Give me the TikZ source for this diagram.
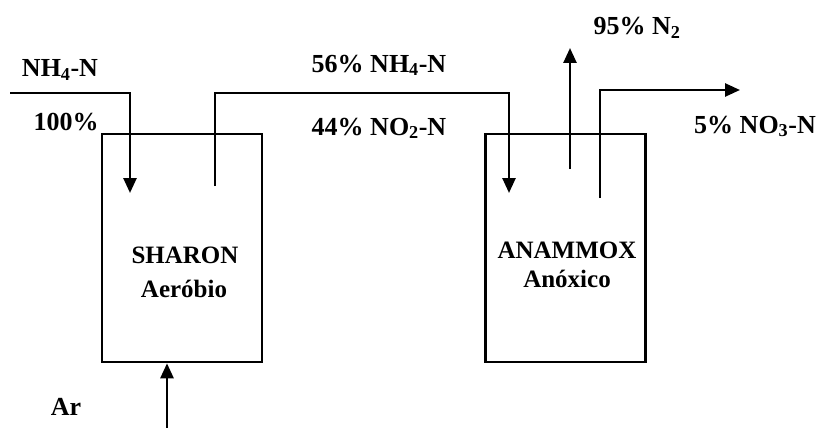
\documentclass[tikz,border=0pt]{standalone}
\usepackage{fontspec}
\setmainfont{Liberation Serif}
\usetikzlibrary{arrows.meta}
\begin{document}
\begin{tikzpicture}[x=1pt, y=-1pt, >={Triangle[length=15pt,width=13pt]},
    line width=2.6pt,
    reactor/.style={draw, line width=2.6pt, minimum width=160pt, minimum height=228pt, inner sep=0pt},
    lbl/.style={font=\fontsize{26}{30}\selectfont\bfseries, inner sep=0pt, anchor=base},
    rlbl/.style={font=\fontsize{25}{30}\selectfont\bfseries, inner sep=0pt, anchor=base}]
    \useasboundingbox (0,0) rectangle (824,428);

    % Reatores
    \node[reactor] (sharon) at (182,248) {};
    \node[reactor] (anammox) at (565.5,248) {};
    \node[rlbl] (sharontxt) at (185,263) {SHARON};
    \node[rlbl] (aerobio) at (184,297) {Aeróbio};
    \node[rlbl] (anammoxtxt) at (567,258) {ANAMMOX};
    \node[rlbl] (anoxico) at (567,287) {Anóxico};

    % Pontos das linhas
    \coordinate (in) at (10,93);
    \coordinate (inturn) at (130,93);
    \coordinate (inend) at (130,193);
    \coordinate (mid0) at (215,186);
    \coordinate (mid1) at (215,93);
    \coordinate (mid2) at (509,93);
    \coordinate (midend) at (509,193);
    \coordinate (gas0) at (570,169);
    \coordinate (gasend) at (570,48);
    \coordinate (out0) at (600,198);
    \coordinate (out1) at (600,90);
    \coordinate (outend) at (740,90);
    \coordinate (ar0) at (167,428);

    % Fluxos
    \draw[->] (in) -- (inturn) -- (inend);
    \draw[->] (mid0) -- (mid1) -- (mid2) -- (midend);
    \draw[->] (gas0) -- (gasend);
    \draw[->] (out0) -- (out1) -- (outend);
    \draw[->] (ar0) -- (sharon.south -| ar0);

    % Textos
    \node[lbl] (nh4) at (60,77) {NH\textsubscript{4}-N};
    \node[lbl] (cem) at (66,130) {100\%};
    \node[lbl] (nh4b) at (379,72) {56\% NH\textsubscript{4}-N};
    \node[lbl] (no2) at (379,135) {44\% NO\textsubscript{2}-N};
    \node[lbl] (n2) at (637,35) {95\% N\textsubscript{2}};
    \node[lbl] (no3) at (755,133) {5\% NO\textsubscript{3}-N};
    \node[lbl] (ar) at (66,415) {Ar};
\end{tikzpicture}
\end{document}
